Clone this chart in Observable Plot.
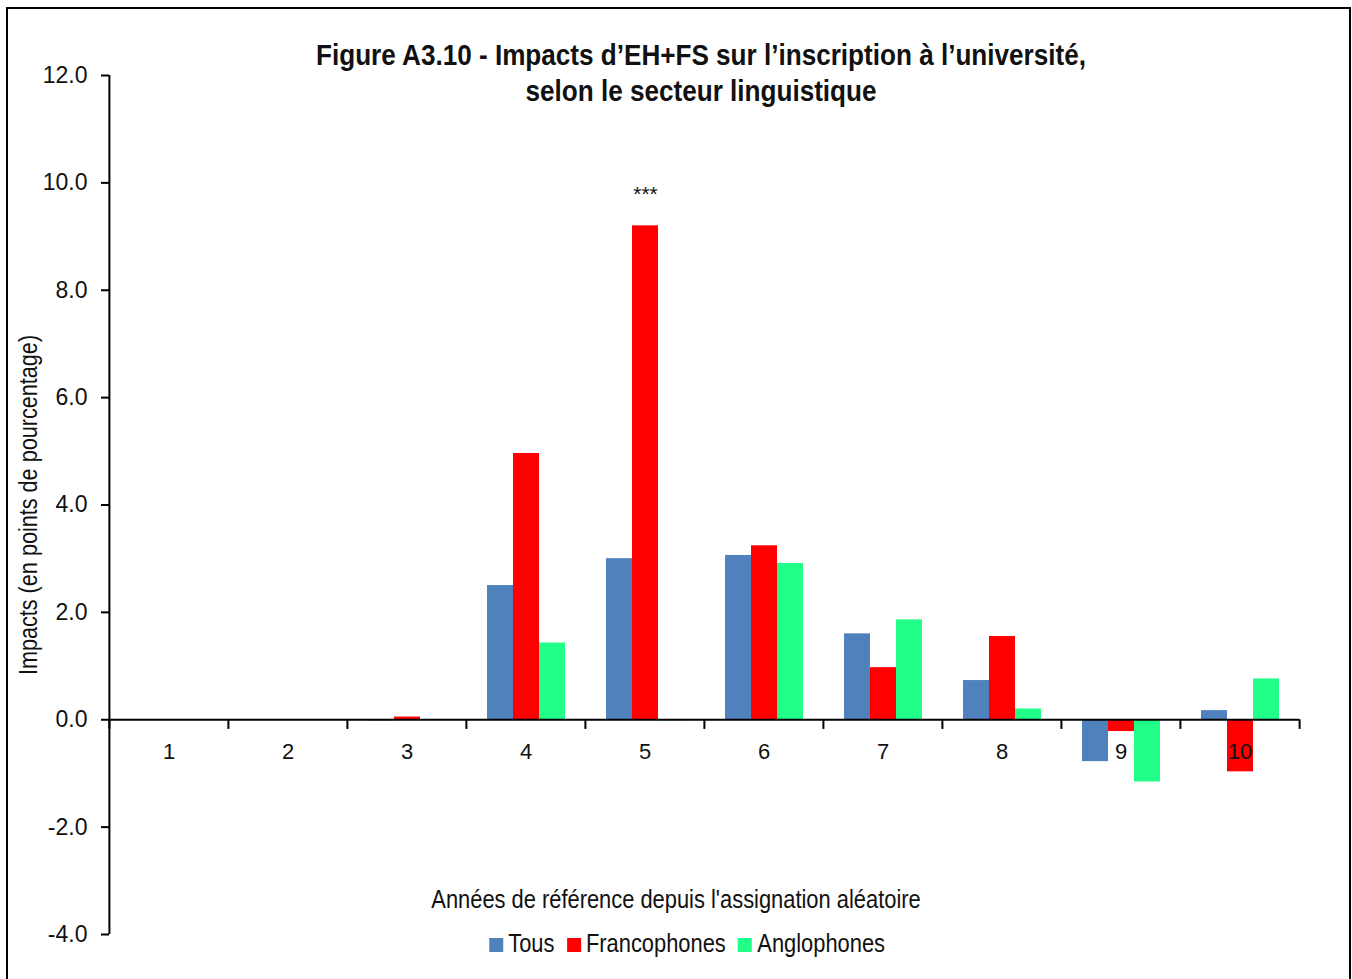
<!DOCTYPE html>
<html>
<head>
<meta charset="utf-8">
<script src="https://cdn.jsdelivr.net/npm/d3@7"></script>
<script src="https://cdn.jsdelivr.net/npm/@observablehq/plot@0.6"></script>
<style>
  html, body { margin: 0; padding: 0; background: #fff; }
  #wrap { position: relative; width: 1352px; height: 979px; overflow: hidden;
          font-family: "Liberation Sans", Arial, sans-serif; color: #111; }
  #border { position: absolute; left: 6px; top: 7px; width: 1341px; height: 990px; border: 2px solid #000; }
  #chart { position: absolute; left: 0; top: 0; }
  #title { position: absolute; left: 0; width: 1402px; top: 37px; text-align: center;
           font-weight: bold; font-size: 29px; line-height: 36px; transform: scaleX(0.90); transform-origin: 50% 50%; }
  #ylabel { position: absolute; left: 28px; top: 505px; transform: translate(-50%, -50%) rotate(-90deg) scaleX(0.865);
            white-space: nowrap; font-size: 25px; }
  #xlabel { position: absolute; left: 0; width: 1352px; top: 885px; text-align: center; font-size: 25px;
            transform: scaleX(0.875); transform-origin: 50% 50%; }
  #legend { position: absolute; left: 0; width: 1374px; top: 929px; text-align: center; font-size: 25px; white-space: nowrap;
            transform: scaleX(0.875); transform-origin: 50% 50%; }
  #legend span.item { margin: 0 7px; }
  #legend span.sw { display: inline-block; width: 16px; height: 14px; margin-right: 6px; vertical-align: 0px; }
</style>
</head>
<body>
<div id="wrap">
  <div id="border"></div>
  <div id="chart"></div>
  <div id="title">Figure A3.10 - Impacts d’EH+FS sur l’inscription à l’université,<br>selon le secteur linguistique</div>
  <div id="ylabel">Impacts (en points de pourcentage)</div>
  <div id="xlabel">Années de référence depuis l'assignation aléatoire</div>
  <div id="legend"></div>
</div>
<script>
const years = [1, 2, 3, 4, 5, 6, 7, 8, 9, 10];
const series = ["Tous", "Francophones", "Anglophones"];
const colors = ["#4F81BD", "#FF0000", "#22FF88"];
const tous = [0, 0, -0.02, 2.50, 3.00, 3.06, 1.60, 0.73, -0.78, 0.17];
const francophones = [0, 0, 0.05, 4.96, 9.20, 3.24, 0.97, 1.55, -0.22, -0.97];
const anglophones = [0, 0, 0, 1.43, -0.02, 2.91, 1.86, 0.20, -1.16, 0.76];
const yTicks = [-4, -2, 0, 2, 4, 6, 8, 10, 12];
const significance = [{year: 5, series: "Francophones", value: 9.20, label: "***"}];

const valuesBySeries = [tous, francophones, anglophones];
const rows = [];
years.forEach((yr, i) => series.forEach((s, j) => rows.push({year: yr, series: s, value: valuesBySeries[j][i]})));
const yearRows = years.map(yr => ({year: yr}));

const W = 1352, H = 979, mL = 108, mR = 52, mT = 75, mB = 45;
const facetW = (W - mL - mR) / years.length;
const font = '"Liberation Sans", Arial, sans-serif';

const plot = Plot.plot({
  width: W, height: H,
  marginLeft: mL, marginRight: mR, marginTop: mT, marginBottom: mB,
  style: {fontFamily: font, fontSize: "22px", color: "#111", background: "transparent"},
  fx: {domain: years, padding: 0, axis: null},
  x: {domain: series, paddingInner: 0, paddingOuter: 0.75, axis: null},
  y: {domain: [-4, 12], axis: null},
  color: {domain: series, range: colors},
  marks: [
    Plot.barY(rows, {fx: "year", x: "series", y: "value", fill: "series"}),
    Plot.ruleY([0], {stroke: "#000", strokeWidth: 2}),
    // x tick marks at category boundaries
    Plot.ruleX(yearRows, {fx: "year", x: null, y1: 0, y2: -0.18, dx: -facetW / 2, stroke: "#000", strokeWidth: 2}),
    Plot.ruleX(yearRows.slice(-1), {fx: "year", x: null, y1: 0, y2: -0.18, dx: facetW / 2, stroke: "#000", strokeWidth: 2}),
    // y axis line
    Plot.ruleX(yearRows.slice(0, 1), {fx: "year", x: null, y1: -4, y2: 12, dx: -facetW / 2, stroke: "#000", strokeWidth: 2}),
    Plot.axisY({ticks: yTicks, tickFormat: d => d.toFixed(1), tickSize: 8, tickPadding: 14, strokeWidth: 2, stroke: "#000", fill: "#111", fontSize: 23, label: null}),
    // category labels
    Plot.text(years, {fx: d => d, y: d => 0, text: d => String(d), dy: 32, fill: "#111", fontSize: 22}),
    // significance stars
    Plot.text(significance, {fx: "year", x: "series", y: "value", text: "label", dy: -32, fill: "#111", fontSize: 21})
  ]
});
document.getElementById("chart").appendChild(plot);

const legend = document.getElementById("legend");
series.forEach((s, i) => {
  const item = document.createElement("span");
  item.className = "item";
  const sw = document.createElement("span");
  sw.className = "sw";
  sw.style.background = colors[i];
  item.appendChild(sw);
  item.appendChild(document.createTextNode(s));
  legend.appendChild(item);
});
</script>
</body>
</html>
